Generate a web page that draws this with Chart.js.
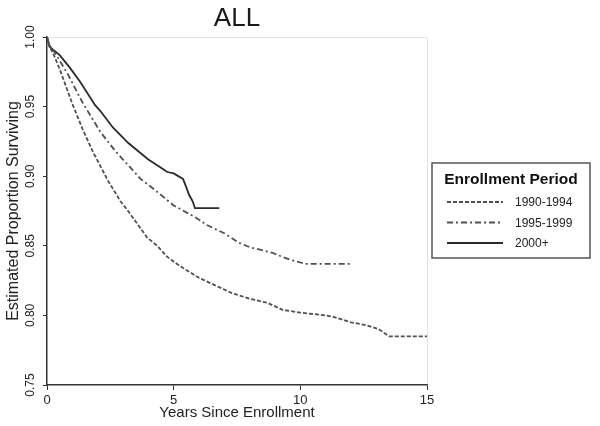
<!DOCTYPE html>
<html>
<head>
<meta charset="utf-8">
<script src="https://cdn.jsdelivr.net/npm/chart.js@4"></script>
<style>
  body { margin: 0; background: #fff; }
  #wrap { width: 600px; height: 426px; }
</style>
</head>
<body>
<div id="wrap"><canvas id="kmChart"></canvas></div>
<script>
// Kaplan-Meier curves (years since enrollment, proportion surviving)
const yrs1990 = [0, 0.1, 0.25, 0.5, 1.0, 1.4, 1.8, 2.4, 2.9, 3.2, 3.95, 4.35, 4.75, 5.2, 6.0, 7.3, 8.0, 8.7, 9.3, 10.0, 11.0, 11.3, 12.0, 12.6, 13.1, 13.5, 15.0];
const surv1990 = [1.0, 0.993, 0.988, 0.977, 0.952, 0.934, 0.918, 0.897, 0.882, 0.875, 0.856, 0.85, 0.842, 0.836, 0.827, 0.816, 0.812, 0.809, 0.804, 0.802, 0.8, 0.799, 0.795, 0.793, 0.79, 0.785, 0.785];

const yrs1995 = [0, 0.1, 0.3, 0.8, 1.4, 2.1, 2.7, 3.2, 3.7, 4.2, 5.0, 5.9, 6.3, 7.0, 7.6, 8.0, 8.9, 9.3, 9.6, 10.0, 10.2, 12.05];
const surv1995 = [1.0, 0.994, 0.989, 0.974, 0.953, 0.932, 0.918, 0.908, 0.898, 0.891, 0.879, 0.87, 0.865, 0.859, 0.852, 0.849, 0.845, 0.842, 0.84, 0.838, 0.837, 0.837];

const yrs2000 = [0, 0.1, 0.3, 0.5, 0.9, 1.3, 1.9, 2.1, 2.6, 3.2, 3.4, 4.0, 4.5, 4.75, 5.0, 5.37, 5.5, 5.6, 5.75, 5.84, 6.8];
const surv2000 = [1.0, 0.993, 0.99, 0.987, 0.978, 0.968, 0.951, 0.947, 0.935, 0.924, 0.921, 0.912, 0.906, 0.903, 0.902, 0.898, 0.892, 0.887, 0.882, 0.877, 0.877];

const periods = ["1990-1994", "1995-1999", "2000+"];
const xTicks = [0, 5, 10, 15];
const yTicks = [0.75, 0.8, 0.85, 0.9, 0.95, 1.0];

const FONT = "'Liberation Sans', Arial, sans-serif";
const toPoints = (xs, ys) => xs.map((x, i) => ({ x: x, y: ys[i] }));

// light frame on top/right of plot + boxed legend at right
const framePlugin = {
    id: "frame",
    beforeDraw(chart) {
        const { ctx, chartArea: a } = chart;
        ctx.save();
        ctx.fillStyle = "#fff";
        ctx.fillRect(0, 0, chart.width, chart.height);
        ctx.strokeStyle = "#e2e2e2";
        ctx.lineWidth = 1;
        ctx.beginPath();
        ctx.moveTo(a.left, a.top + 0.5);
        ctx.lineTo(a.right + 0.5, a.top + 0.5);
        ctx.lineTo(a.right + 0.5, a.bottom);
        ctx.stroke();
        ctx.restore();
    },
    afterDraw(chart) {
        const { ctx } = chart;
        const bx = 432, by = 163, bw = 158, bh = 95;
        ctx.save();
        ctx.strokeStyle = "#555";
        ctx.lineWidth = 1.5;
        ctx.strokeRect(bx, by, bw, bh);
        ctx.fillStyle = "#111";
        ctx.font = "bold 15.5px " + FONT;
        ctx.textAlign = "center";
        ctx.textBaseline = "middle";
        ctx.fillText("Enrollment Period", bx + bw / 2, 180);
        ctx.font = "12px " + FONT;
        ctx.textAlign = "left";
        chart.data.datasets.forEach((ds, i) => {
            const y = 202 + i * 20.5;
            ctx.strokeStyle = ds.borderColor;
            ctx.lineWidth = ds.borderWidth;
            ctx.setLineDash(ds.borderDash || []);
            ctx.beginPath();
            ctx.moveTo(447, y);
            ctx.lineTo(503, y);
            ctx.stroke();
            ctx.setLineDash([]);
            ctx.fillStyle = "#222";
            ctx.fillText(ds.label, 515, y + 1);
        });
        ctx.restore();
    },
};

new Chart(document.getElementById("kmChart"), {
    type: "line",
    data: {
        datasets: [
            {
                label: periods[0],
                data: toPoints(yrs1990, surv1990),
                borderColor: "#505050",
                borderWidth: 1.8,
                borderDash: [4, 2],
            },
            {
                label: periods[1],
                data: toPoints(yrs1995, surv1995),
                borderColor: "#505050",
                borderWidth: 1.8,
                borderDash: [6, 3, 2, 3],
            },
            {
                label: periods[2],
                data: toPoints(yrs2000, surv2000),
                borderColor: "#2a2a2a",
                borderWidth: 1.8,
            },
        ],
    },
    options: {
        responsive: true,
        maintainAspectRatio: false,
        animation: false,
        layout: { padding: { left: 0, right: 173, top: 0, bottom: 0 } },
        elements: { point: { radius: 0 }, line: { tension: 0 } },
        plugins: {
            legend: { display: false },
            tooltip: { enabled: false },
            title: {
                display: true,
                text: "ALL",
                fullSize: false,
                color: "#1a1a1a",
                font: { family: FONT, size: 26, weight: "normal", lineHeight: 1.2 },
                padding: { top: 3, bottom: 2.8 },
            },
        },
        scales: {
            x: {
                type: "linear",
                min: 0,
                max: 15,
                afterBuildTicks: (s) => { s.ticks = xTicks.map((v) => ({ value: v })); },
                afterFit: (s) => { s.height = 41; },
                grid: { drawOnChartArea: false, drawTicks: true, tickLength: 5, color: "#333" },
                border: { color: "#333", width: 1.5 },
                ticks: { color: "#222", font: { family: FONT, size: 13 }, padding: 3, maxRotation: 0 },
                title: {
                    display: true,
                    text: "Years Since Enrollment",
                    color: "#222",
                    font: { family: FONT, size: 15 },
                    padding: { top: 0, bottom: 4 },
                },
            },
            y: {
                min: 0.75,
                max: 1.0,
                afterBuildTicks: (s) => { s.ticks = yTicks.map((v) => ({ value: v })); },
                afterFit: (s) => { s.width = 47; },
                grid: { drawOnChartArea: false, drawTicks: true, tickLength: 4, color: "#333" },
                border: { color: "#333", width: 1.5 },
                ticks: {
                    color: "#222",
                    font: { family: FONT, size: 12 },
                    minRotation: 90,
                    maxRotation: 90,
                    crossAlign: "center",
                    padding: 1,
                    callback: (v) => Number(v).toFixed(2),
                },
                title: {
                    display: true,
                    text: "Estimated Proportion Surviving",
                    color: "#222",
                    font: { family: FONT, size: 16 },
                    padding: { top: 4, bottom: 0 },
                },
            },
        },
    },
    plugins: [framePlugin],
});
</script>
</body>
</html>
